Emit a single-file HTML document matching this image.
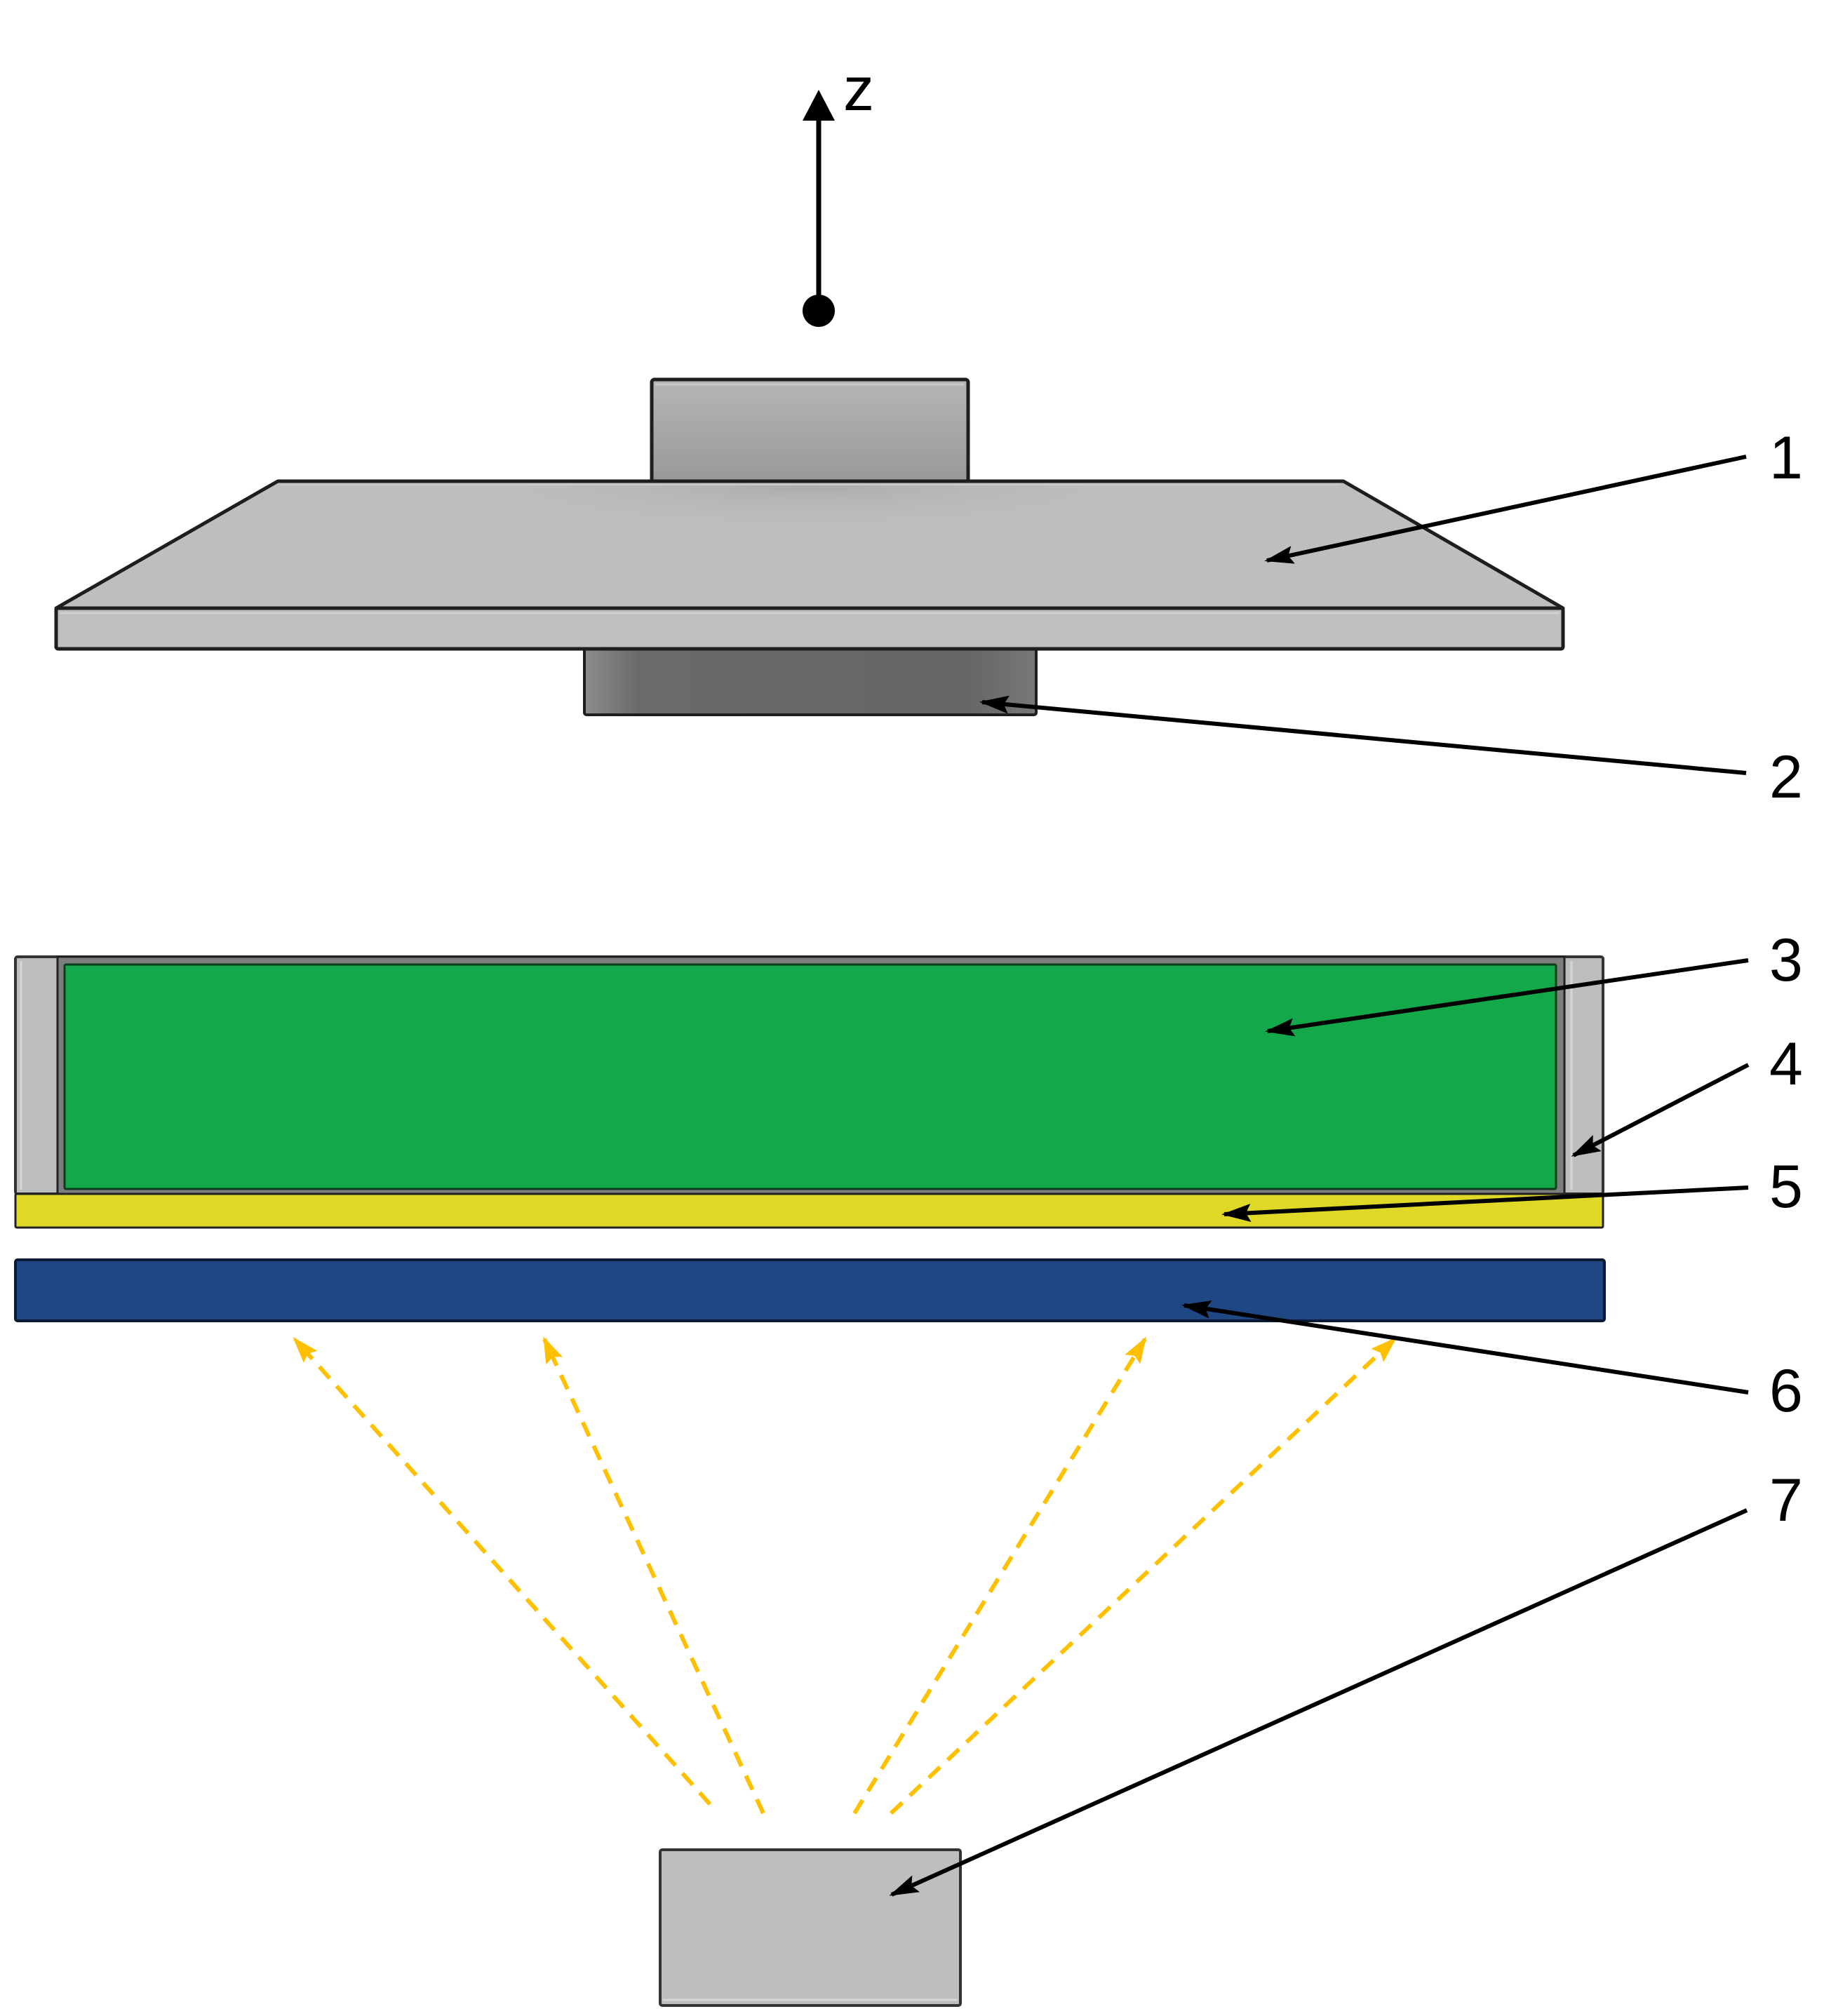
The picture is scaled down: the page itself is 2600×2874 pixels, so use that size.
<!DOCTYPE html>
<html>
<head>
<meta charset="utf-8">
<style>
  html, body { margin: 0; padding: 0; background: #ffffff; }
  svg { display: block; }
  text { font-family: "Liberation Sans", "DejaVu Sans", sans-serif; fill: #000; }
</style>
</head>
<body>
<svg width="2600" height="2874" viewBox="0 0 2600 2874" xmlns="http://www.w3.org/2000/svg">
  <defs>
    <linearGradient id="topBlock" x1="0" y1="0" x2="0" y2="1">
      <stop offset="0" stop-color="#b6b6b6"/>
      <stop offset="1" stop-color="#989898"/>
    </linearGradient>
    <linearGradient id="lowBlockH" x1="0" y1="0" x2="1" y2="0">
      <stop offset="0" stop-color="#8c8c8c"/>
      <stop offset="0.12" stop-color="#6a6a6a"/>
      <stop offset="0.85" stop-color="#666666"/>
      <stop offset="1" stop-color="#787878"/>
    </linearGradient>
    <radialGradient id="plateShadow" cx="0.5" cy="0" r="0.6">
      <stop offset="0" stop-color="#a8a8a8" stop-opacity="0.9"/>
      <stop offset="1" stop-color="#bebebe" stop-opacity="0"/>
    </radialGradient>
    <marker id="blk" markerUnits="userSpaceOnUse" markerWidth="50" markerHeight="30" refX="38" refY="13" orient="auto">
      <path d="M0,0 L42,13 L0,26 L7,13 Z" fill="#000"/>
    </marker>
    <marker id="org" markerUnits="userSpaceOnUse" markerWidth="44" markerHeight="30" refX="34" refY="13" orient="auto">
      <path d="M0,0 L38,13 L0,26 L6,13 Z" fill="#ffc000"/>
    </marker>
  </defs>

  <!-- Z axis -->
  <line x1="1167" y1="443" x2="1167" y2="168" stroke="#000" stroke-width="7"/>
  <polygon points="1167,128 1144,172 1190,172" fill="#000"/>
  <circle cx="1167" cy="443" r="23" fill="#000"/>
  <text x="1202" y="157" font-size="88">z</text>

  <!-- top block -->
  <rect x="929" y="541" width="451" height="147" rx="4" fill="url(#topBlock)" stroke="#1e1e1e" stroke-width="5"/>
  <line x1="934" y1="548" x2="1375" y2="548" stroke="#c8c8c8" stroke-width="3"/>

  <!-- lower block (part 2) -->
  <rect x="833" y="920" width="644" height="99" rx="3" fill="url(#lowBlockH)" stroke="#1e1e1e" stroke-width="4"/>

  <!-- plate (part 1) -->
  <polygon points="396,686 1915,686 2228,867 80,867" fill="#bebebe" stroke="#1e1e1e" stroke-width="5" stroke-linejoin="round"/>
  <rect x="700" y="690" width="900" height="120" fill="url(#plateShadow)"/>
  <rect x="80" y="867" width="2148" height="58" rx="3" fill="#bfbfbf" stroke="#1e1e1e" stroke-width="5"/>
  <line x1="85" y1="874" x2="2223" y2="874" stroke="#d0d0d0" stroke-width="3"/>
  <line x1="400" y1="691" x2="1910" y2="691" stroke="#c9c9c9" stroke-width="2"/>

  <!-- container (parts 3, 4) -->
  <rect x="22" y="1364" width="2263" height="338" rx="3" fill="#bdbdbd" stroke="#333" stroke-width="4"/>
  <line x1="30" y1="1370" x2="30" y2="1696" stroke="#d6d6d6" stroke-width="3"/>
  <line x1="2240" y1="1370" x2="2240" y2="1696" stroke="#d6d6d6" stroke-width="3"/>
  <rect x="82" y="1364" width="2148" height="338" fill="#7e7e7e" stroke="#222" stroke-width="3"/>
  <rect x="92" y="1375" width="2126" height="320" rx="2" fill="#13a84a" stroke="#0b3d1c" stroke-width="3"/>

  <!-- yellow layer (5) -->
  <rect x="22" y="1702" width="2263" height="48" rx="2" fill="#e0d826" stroke="#222" stroke-width="3"/>

  <!-- blue layer (6) -->
  <rect x="22" y="1796" width="2265" height="87" rx="3" fill="#1f4784" stroke="#0c1a33" stroke-width="4"/>

  <!-- light source (7) -->
  <rect x="941" y="2637" width="428" height="222" rx="3" fill="#bebebe" stroke="#333" stroke-width="4"/>
  <line x1="945" y1="2851" x2="1365" y2="2851" stroke="#d6d6d6" stroke-width="3"/>

  <!-- dashed light rays -->
  <g stroke="#ffc000" stroke-width="6" stroke-dasharray="22 15" fill="none">
    <line x1="1012" y1="2572" x2="420" y2="1909" marker-end="url(#org)"/>
    <line x1="1088" y1="2585" x2="776" y2="1909" marker-end="url(#org)"/>
    <line x1="1218" y1="2585" x2="1632" y2="1909" marker-end="url(#org)"/>
    <line x1="1270" y1="2585" x2="1988" y2="1909" marker-end="url(#org)"/>
  </g>

  <!-- leader lines -->
  <g stroke="#000" stroke-width="6" fill="none">
    <line x1="2489" y1="651" x2="1806" y2="799" marker-end="url(#blk)"/>
    <line x1="2489" y1="1102" x2="1400" y2="1001" marker-end="url(#blk)"/>
    <line x1="2492" y1="1369" x2="1807" y2="1470" marker-end="url(#blk)"/>
    <line x1="2492" y1="1518" x2="2243" y2="1647" marker-end="url(#blk)"/>
    <line x1="2492" y1="1693" x2="1745" y2="1731" marker-end="url(#blk)"/>
    <line x1="2492" y1="1985" x2="1688" y2="1861" marker-end="url(#blk)"/>
    <line x1="2490" y1="2153" x2="1271" y2="2701" marker-end="url(#blk)"/>
  </g>

  <!-- labels -->
  <g font-size="86">
    <text x="2522" y="682">1</text>
    <text x="2522" y="1137">2</text>
    <text x="2522" y="1398">3</text>
    <text x="2522" y="1546">4</text>
    <text x="2522" y="1721">5</text>
    <text x="2522" y="2012">6</text>
    <text x="2522" y="2168">7</text>
  </g>
</svg>
</body>
</html>
